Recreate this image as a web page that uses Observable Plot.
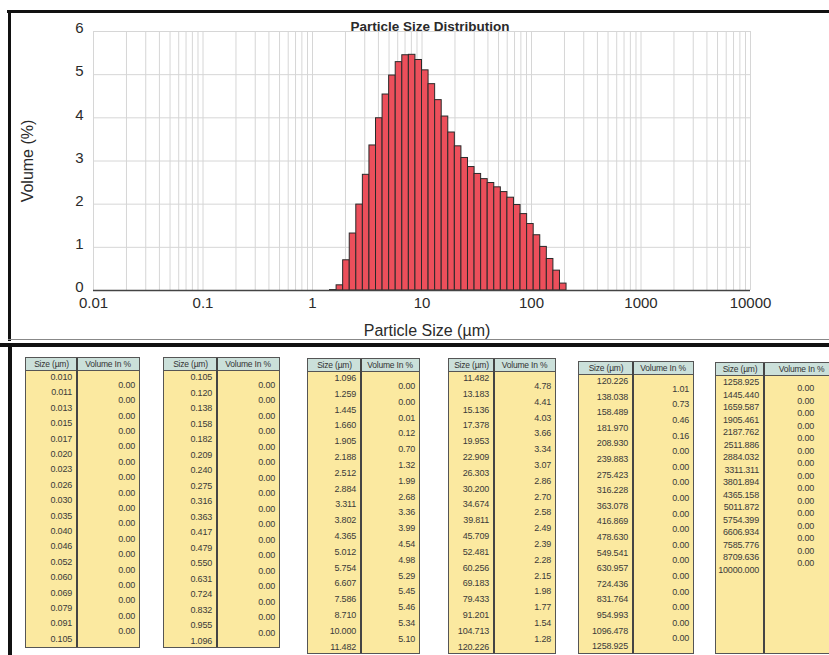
<!DOCTYPE html>
<html><head><meta charset="utf-8">
<script src="https://cdn.jsdelivr.net/npm/d3@7"></script>
<script src="https://cdn.jsdelivr.net/npm/@observablehq/plot@0.6"></script>
<style>
body{margin:0;background:#fff;font-family:"Liberation Sans",Arial,sans-serif;}
#page{position:relative;width:829px;height:655px;overflow:hidden;background:#fff;}
#chart{position:absolute;left:0;top:0;}
.line{position:absolute;background:#111;}
.tbl{position:absolute;box-sizing:border-box;border:1px solid #555;background:#fbe9a0;}
.hdr{position:absolute;top:0;height:13px;box-sizing:border-box;background:#cbe0da;border-bottom:1px solid #555;font-size:8.5px;line-height:12px;text-align:center;color:#333;white-space:nowrap;overflow:hidden;letter-spacing:-0.2px;}
.sep{position:absolute;top:0;bottom:0;width:1.5px;background:#444;}
.cell{position:absolute;font-size:9px;color:#3a3a3a;text-align:right;white-space:nowrap;line-height:10px;letter-spacing:-0.2px;}
</style></head>
<body><div id="page"><div id="chart"></div></div>
<script>
// ---- data ----
const sizeEdges = [
 "0.010","0.011","0.013","0.015","0.017","0.020","0.023","0.026","0.030","0.035","0.040","0.046","0.052","0.060","0.069","0.079","0.091",
 "0.105","0.120","0.138","0.158","0.182","0.209","0.240","0.275","0.316","0.363","0.417","0.479","0.550","0.631","0.724","0.832","0.955",
 "1.096","1.259","1.445","1.660","1.905","2.188","2.512","2.884","3.311","3.802","4.365","5.012","5.754","6.607","7.586","8.710","10.000",
 "11.482","13.183","15.136","17.378","19.953","22.909","26.303","30.200","34.674","39.811","45.709","52.481","60.256","69.183","79.433","91.201","104.713",
 "120.226","138.038","158.489","181.970","208.930","239.883","275.423","316.228","363.078","416.869","478.630","549.541","630.957","724.436","831.764","954.993","1096.478",
 "1258.925","1445.440","1659.587","1905.461","2187.762","2511.886","2884.032","3311.311","3801.894","4365.158","5011.872","5754.399","6606.934","7585.776","8709.636","10000.000"
];
const volumes = [
 0,0,0,0,0,0,0,0,0,0,0,0,0,0,0,0,0,
 0,0,0,0,0,0,0,0,0,0,0,0,0,0,0,0,0,
 0.00,0.00,0.01,0.12,0.70,1.32,1.99,2.68,3.36,3.99,4.54,4.98,5.29,5.45,5.46,5.34,5.10,
 4.78,4.41,4.03,3.66,3.34,3.07,2.86,2.70,2.58,2.49,2.39,2.28,2.15,1.98,1.77,1.54,1.28,
 1.01,0.73,0.46,0.16,0,0,0,0,0,0,0,0,0,0,0,0,0,
 0,0,0,0,0,0,0,0,0,0,0,0,0,0,0
];
const binsPerTable = [17,17,17,17,17,15];
const xTicks = [0.01,0.1,1,10,100,1000,10000];
const xTickLabels = ["0.01","0.1","1","10","100","1000","10000"];
const yTicks = [0,1,2,3,4,5,6];
const headers = ["Size (µm)","Volume In %"];
const titleText = "Particle Size Distribution";
const xLabel = "Particle Size (µm)";
const yLabel = "Volume (%)";

// ---- chart ----
const edges = sizeEdges.map(Number);
const bins = volumes.map((v,i)=>({x1:edges[i], x2:edges[i+1], v}));
const minor = [];
for (let d=-2; d<4; d++) for (let m=1; m<10; m++) minor.push(m*Math.pow(10,d));
minor.push(10000);

const chart = Plot.plot({
  width:829, height:340, marginLeft:93, marginRight:79, marginTop:31, marginBottom:50,
  style:{fontFamily:"Liberation Sans, Arial, sans-serif", fontSize:"15px", color:"#2a2a2a", background:"transparent", overflow:"visible"},
  x:{type:"log", domain:[0.01,10000]},
  y:{domain:[0,6]},
  marks:[
    Plot.gridX(minor, {stroke:"#d6d6d6", strokeOpacity:1}),
    Plot.gridY(yTicks.slice(1), {stroke:"#d6d6d6", strokeOpacity:1}),
    Plot.axisX(xTicks, {tickSize:0, tickPadding:7, label:null, tickFormat:(d)=>xTickLabels[xTicks.indexOf(d)], fontSize:15}),
    Plot.axisY(yTicks, {tickSize:0, tickPadding:10, label:null, fontSize:15, dy:-3}),
    Plot.rectY(bins, {x1:"x1", x2:"x2", y:"v", fill:"#ec4f5b", stroke:"#2a2a2a", strokeWidth:1, inset:0}),
    Plot.ruleY([0], {stroke:"#444", strokeWidth:1.5}),
    Plot.text([titleText], {frameAnchor:"top", lineAnchor:"middle", textAnchor:"middle", dy:-5, dx:8, fontWeight:"bold", fontSize:13.5}),
    Plot.text([yLabel], {frameAnchor:"left", lineAnchor:"middle", textAnchor:"middle", dx:-66, rotate:-90, fontSize:16}),
    Plot.text([xLabel], {frameAnchor:"bottom", lineAnchor:"middle", textAnchor:"middle", dy:40, dx:5, fontSize:16})
  ]
});
document.getElementById("chart").appendChild(chart);

// ---- frame lines ----
const page = document.getElementById("page");
function line(l,t,w,h,c){const d=document.createElement("div");d.className="line";d.style.cssText=`left:${l}px;top:${t}px;width:${w}px;height:${h}px;background:${c||"#111"}`;page.appendChild(d);}
line(7,10,822,3);
line(8,10,3,331);
line(8,339,821,1,"#888");
line(0,343,829,4);
line(8,343,4,312);

// ---- tables ----
const layout = [
  {l:25, s:76, r:140, t:357, b:648, f:376, st:15.4},
  {l:163,s:216,r:280, t:357, b:648, f:376, st:15.5},
  {l:307,s:360,r:420, t:358, b:654, f:377, st:15.8},
  {l:448,s:493,r:556, t:358, b:654, f:377, st:15.8},
  {l:578,s:632,r:694, t:361, b:654, f:380, st:15.6},
  {l:715,s:763,r:840, t:362, b:654, f:381, st:12.5}
];
let start = 0;
binsPerTable.forEach((n,k)=>{
  const L = layout[k];
  const tb = document.createElement("div");
  tb.className="tbl";
  tb.style.cssText=`left:${L.l}px;top:${L.t}px;width:${L.r-L.l}px;height:${L.b-L.t}px;`;
  const w1 = L.s-L.l, w2 = L.r-L.s;
  const h1=document.createElement("div");h1.className="hdr";h1.style.left="0px";h1.style.width=w1+"px";h1.textContent=headers[0];tb.appendChild(h1);
  const h2=document.createElement("div");h2.className="hdr";h2.style.left=w1+"px";h2.style.width=(w2-2)+"px";h2.textContent=headers[1];tb.appendChild(h2);
  const sp=document.createElement("div");sp.className="sep";sp.style.left=(w1-1)+"px";tb.appendChild(sp);
  for(let i=0;i<=n;i++){
    const c=document.createElement("div");c.className="cell";
    c.style.cssText=`right:${w2+3}px;top:${L.f-L.t+i*L.st-5}px;`;
    c.textContent=sizeEdges[start+i];tb.appendChild(c);
  }
  for(let i=0;i<n;i++){
    const c=document.createElement("div");c.className="cell";
    c.style.cssText=`right:${k===5?Math.max(4,L.r-829+14):4}px;top:${L.f-L.t+(i+0.5)*L.st-5}px;`;
    c.textContent=volumes[start+i].toFixed(2);tb.appendChild(c);
  }
  page.appendChild(tb);
  start += n;
});
</script></body></html>
